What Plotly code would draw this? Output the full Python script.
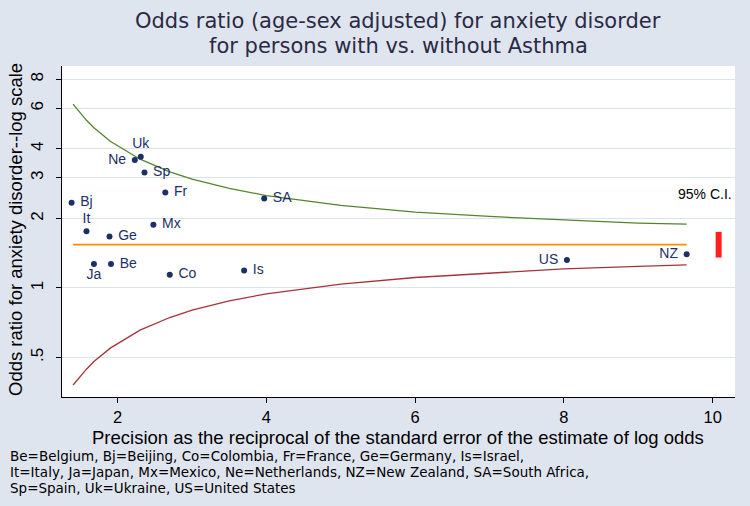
import plotly.graph_objects as go
import math

# Country points: precision (1/SE of log odds) and odds ratio
codes = ["Bj", "It", "Ja", "Be", "Ge", "Ne", "Uk", "Sp", "Mx", "Fr", "Co", "Is", "SA", "US", "NZ"]
precision = [1.38, 1.58, 1.68, 1.91, 1.89, 2.23, 2.31, 2.36, 2.48, 2.64, 2.70, 3.70, 3.97, 8.04, 9.65]
odds_ratio = [2.34, 1.76, 1.27, 1.27, 1.67, 3.58, 3.70, 3.16, 1.88, 2.59, 1.14, 1.19, 2.44, 1.32, 1.40]
label_pos = ["middle right", "top center", "bottom center", "middle right", "middle right",
             "middle left", "top center", "middle right", "middle right", "middle right",
             "middle right", "middle right", "middle right", "middle left", "middle left"]

# Funnel limits (95% C.I.) read along the precision axis
funnel_x = [1.40, 1.58, 1.68, 1.90, 2.30, 2.70, 3.00, 3.50, 4.00, 5.00, 6.00, 7.00, 8.00, 9.00, 9.65]
funnel_upper = [6.25, 5.32, 4.94, 4.32, 3.61, 3.18, 2.96, 2.70, 2.51, 2.28, 2.13, 2.04, 1.97, 1.91, 1.89]
funnel_lower = [0.380, 0.445, 0.480, 0.549, 0.657, 0.745, 0.801, 0.880, 0.943, 1.04, 1.11, 1.16, 1.21, 1.24, 1.26]

# Pooled estimate and its confidence interval
pooled_or = 1.54
pooled_ci = [1.355, 1.75]
pooled_ci_x = 10.08
pooled_line_x = [1.40, 9.65]

y_tickvals = [0.5, 1, 2, 3, 4, 6, 8]
y_ticktext = [".5", "1", "2", "3", "4", "6", "8"]
x_tickvals = [2, 4, 6, 8, 10]

title_lines = ["Odds ratio (age-sex adjusted) for anxiety disorder",
               "for persons with vs. without Asthma"]
x_title = "Precision as the reciprocal of the standard error of the estimate of log odds"
y_title = "Odds ratio for anxiety disorder--log scale"
note_lines = ["Be=Belgium, Bj=Beijing, Co=Colombia, Fr=France, Ge=Germany, Is=Israel,",
              "It=Italy, Ja=Japan, Mx=Mexico, Ne=Netherlands, NZ=New Zealand, SA=South Africa,",
              "Sp=Spain, Uk=Ukraine, US=United States"]

NAVY = "#1c2f66"
FONT = "Liberation Sans, Arial, sans-serif"
WIDE = "DejaVu Sans, Verdana, sans-serif"

# plot-area geometry in pixels
L, R, T, B = 62, 15, 66, 109
W, H = 750, 506
PW, PH = W - L - R, H - T - B


def px_x(px):
    return (px - L) / PW


def px_y(py):
    return (H - B - py) / PH


fig = go.Figure()

fig.add_trace(go.Scatter(x=funnel_x, y=funnel_upper, mode="lines",
                         line=dict(color="#55852a", width=1.3), hoverinfo="skip"))
fig.add_trace(go.Scatter(x=funnel_x, y=funnel_lower, mode="lines",
                         line=dict(color="#a8323a", width=1.3), hoverinfo="skip"))
fig.add_trace(go.Scatter(x=pooled_line_x, y=[pooled_or] * len(pooled_line_x), mode="lines",
                         line=dict(color="#ff8a00", width=1.6), hoverinfo="skip"))
fig.add_trace(go.Scatter(x=[pooled_ci_x, pooled_ci_x], y=pooled_ci, mode="lines",
                         line=dict(color="#ff2020", width=6), hoverinfo="skip"))
fig.add_trace(go.Scatter(x=precision, y=odds_ratio, mode="markers+text",
                         text=[" " + c + " " for c in codes], textposition=label_pos,
                         textfont=dict(family=FONT, size=14, color=NAVY),
                         marker=dict(color=NAVY, size=6)))

fig.add_annotation(text="95% C.I.", xref="paper", x=px_x(734), xanchor="right",
                   yref="y", y=math.log10(2.54), yanchor="middle", showarrow=False,
                   font=dict(family=FONT, size=14, color="black"))

# titles
for line, cy in zip(title_lines, [21, 46]):
    fig.add_annotation(text=line, xref="paper", yref="paper", x=px_x(398), y=px_y(cy),
                       xanchor="center", yanchor="middle", showarrow=False,
                       font=dict(family=WIDE, size=21, color="#2a2a44"))

fig.add_annotation(text=x_title, xref="paper", yref="paper", x=px_x(398), y=px_y(437),
                   xanchor="center", yanchor="middle", showarrow=False,
                   font=dict(family=FONT, size=18.5, color="black"))
fig.add_annotation(text=y_title, xref="paper", yref="paper", x=px_x(15), y=px_y(230),
                   xanchor="center", yanchor="middle", showarrow=False, textangle=-90,
                   font=dict(family=FONT, size=18.5, color="black"))

for line, cy in zip(note_lines, [456, 472, 488]):
    fig.add_annotation(text=line, xref="paper", yref="paper", x=px_x(8), y=px_y(cy),
                       xanchor="left", yanchor="middle", showarrow=False,
                       font=dict(family=WIDE, size=13.5, color="black"))

fig.update_layout(
    width=W, height=H,
    paper_bgcolor="#dfe5ef", plot_bgcolor="white",
    margin=dict(l=L, r=R, t=T, b=B, autoexpand=False),
    showlegend=False,
    font=dict(family=FONT, color="black"),
    xaxis=dict(range=[1.251, 10.30], tickvals=x_tickvals, ticks="outside", ticklen=5,
               tickcolor="black", showgrid=False, showline=True, linecolor="black",
               linewidth=1, zeroline=False, automargin=False,
               tickfont=dict(family=FONT, size=16.5, color="black")),
    yaxis=dict(type="log", range=[-0.472, 0.961], tickvals=y_tickvals, ticktext=y_ticktext,
               ticks="outside", ticklen=5, tickcolor="black", tickangle=-90,
               ticklabelstandoff=6, automargin=False,
               showgrid=True, gridcolor="#dde3ee", gridwidth=1,
               showline=True, linecolor="black", linewidth=1, zeroline=False,
               tickfont=dict(family=FONT, size=17, color="black")),
)

fig.write_html("out.html", config={"displayModeBar": False},
               post_script="document.body.style.margin='0';")
